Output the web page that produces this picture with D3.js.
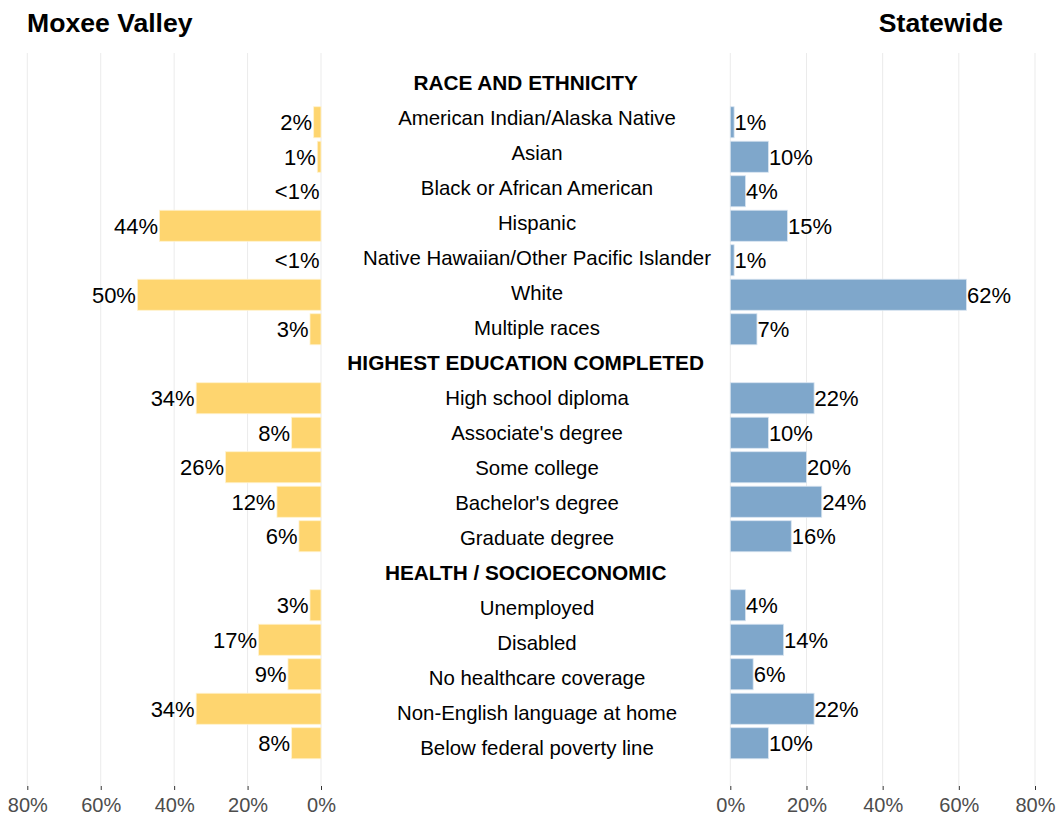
<!DOCTYPE html>
<html>
<head>
<meta charset="utf-8">
<script src="https://cdn.jsdelivr.net/npm/d3@7"></script>
<style>
  body { margin: 0; background: #fff; }
  svg { font-family: "Liberation Sans", Arial, sans-serif; }
</style>
</head>
<body>
<svg id="chart"></svg>
<script>
// rows in display order; header rows have no values
const categories = [
  'RACE AND ETHNICITY',
  'American Indian/Alaska Native', 'Asian', 'Black or African American', 'Hispanic',
  'Native Hawaiian/Other Pacific Islander', 'White', 'Multiple races',
  'HIGHEST EDUCATION COMPLETED',
  'High school diploma', "Associate's degree", 'Some college', "Bachelor's degree", 'Graduate degree',
  'HEALTH / SOCIOECONOMIC',
  'Unemployed', 'Disabled', 'No healthcare coverage', 'Non-English language at home', 'Below federal poverty line'
];
const isHeader = [
  true, false, false, false, false, false, false, false,
  true, false, false, false, false, false,
  true, false, false, false, false, false
];
const moxeeValues = [null, 2, 1, 0, 44, 0, 50, 3, null, 34, 8, 26, 12, 6, null, 3, 17, 9, 34, 8];
const moxeeLabels = [null, '2%', '1%', '<1%', '44%', '<1%', '50%', '3%', null, '34%', '8%', '26%', '12%', '6%', null, '3%', '17%', '9%', '34%', '8%'];
const stateValues = [null, 1, 10, 4, 15, 1, 62, 7, null, 22, 10, 20, 24, 16, null, 4, 14, 6, 22, 10];
const stateLabels = [null, '1%', '10%', '4%', '15%', '1%', '62%', '7%', null, '22%', '10%', '20%', '24%', '16%', null, '4%', '14%', '6%', '22%', '10%'];
const tickValues = [0, 20, 40, 60, 80];

const width = 1058, height = 820;
const svg = d3.select('#chart').attr('width', width).attr('height', height);

const rows = categories.map((c, i) => ({
  i, name: c, header: isHeader[i],
  left: moxeeValues[i], leftLabel: moxeeLabels[i],
  right: stateValues[i], rightLabel: stateLabels[i]
}));

// scales
const y = d3.scaleBand()
  .domain(rows.map(d => d.i))
  .range([70.5, 760.5])
  .paddingInner(0.1)
  .paddingOuter(0.05);

// the middle label column has its own, slightly looser spacing
const yMid = d3.scalePoint()
  .domain(rows.map(d => d.i))
  .range([82.5, 747.5]);

const xLeft = d3.scaleLinear().domain([80, 0]).range([27.3, 321]);
const xRight = d3.scaleLinear().domain([0, 80]).range([730.3, 1035]);

const gridTop = 53, gridBottom = 786;

// gridlines
[xLeft, xRight].forEach(sc => {
  svg.append('g').selectAll('line')
    .data(tickValues)
    .join('line')
    .attr('x1', d => sc(d)).attr('x2', d => sc(d))
    .attr('y1', gridTop).attr('y2', gridBottom)
    .attr('stroke', '#ebebeb')
    .attr('stroke-width', 1);
});

// axes
[xLeft, xRight].forEach(sc => {
  const ax = svg.append('g')
    .attr('transform', `translate(0,${gridBottom})`)
    .call(d3.axisBottom(sc).tickValues(tickValues).tickSize(4).tickPadding(8).tickFormat(d => d + '%'));
  ax.select('.domain').remove();
  ax.selectAll('.tick line').attr('stroke', '#333');
  ax.selectAll('.tick text')
    .attr('fill', '#4d4d4d')
    .attr('font-size', 20)
    .attr('font-family', '"Liberation Sans", Arial, sans-serif');
});

const dataRows = rows.filter(d => !d.header);

// left bars (Moxee Valley)
svg.append('g').selectAll('rect')
  .data(dataRows)
  .join('rect')
  .attr('x', d => xLeft(d.left))
  .attr('y', d => y(d.i))
  .attr('width', d => xLeft(0) - xLeft(d.left))
  .attr('height', y.bandwidth())
  .attr('fill', '#fed56f')
  .attr('stroke', '#fff2cf')
  .attr('stroke-width', 0.8);

svg.append('g').selectAll('text')
  .data(dataRows)
  .join('text')
  .attr('x', d => xLeft(d.left) - 1.5)
  .attr('y', d => y(d.i) + y.bandwidth() / 2 + 8)
  .attr('text-anchor', 'end')
  .attr('font-size', 22)
  .attr('fill', '#000')
  .text(d => d.leftLabel);

// right bars (Statewide)
svg.append('g').selectAll('rect')
  .data(dataRows)
  .join('rect')
  .attr('x', xRight(0))
  .attr('y', d => y(d.i))
  .attr('width', d => xRight(d.right) - xRight(0))
  .attr('height', y.bandwidth())
  .attr('fill', '#7fa7cb')
  .attr('stroke', '#d7e4f0')
  .attr('stroke-width', 0.8);

svg.append('g').selectAll('text')
  .data(dataRows)
  .join('text')
  .attr('x', d => xRight(d.right) + 0.5)
  .attr('y', d => y(d.i) + y.bandwidth() / 2 + 8)
  .attr('text-anchor', 'start')
  .attr('font-size', 22)
  .attr('fill', '#000')
  .text(d => d.rightLabel);

// middle labels
const midHeader = (xLeft(0) + xRight(0)) / 2;
svg.append('g').selectAll('text')
  .data(rows)
  .join('text')
  .attr('x', d => d.header ? midHeader : 537)
  .attr('y', d => yMid(d.i) + 7.3)
  .attr('text-anchor', 'middle')
  .attr('font-size', d => d.header ? 20.8 : 20.4)
  .attr('font-weight', d => d.header ? 'bold' : 'normal')
  .attr('fill', '#000')
  .text(d => d.name);

// panel titles
svg.append('text')
  .attr('x', 27)
  .attr('y', 32)
  .attr('font-size', 26.6)
  .attr('font-weight', 'bold')
  .text('Moxee Valley');

svg.append('text')
  .attr('x', 1003)
  .attr('y', 32)
  .attr('text-anchor', 'end')
  .attr('font-size', 26.6)
  .attr('font-weight', 'bold')
  .text('Statewide');
</script>
</body>
</html>
